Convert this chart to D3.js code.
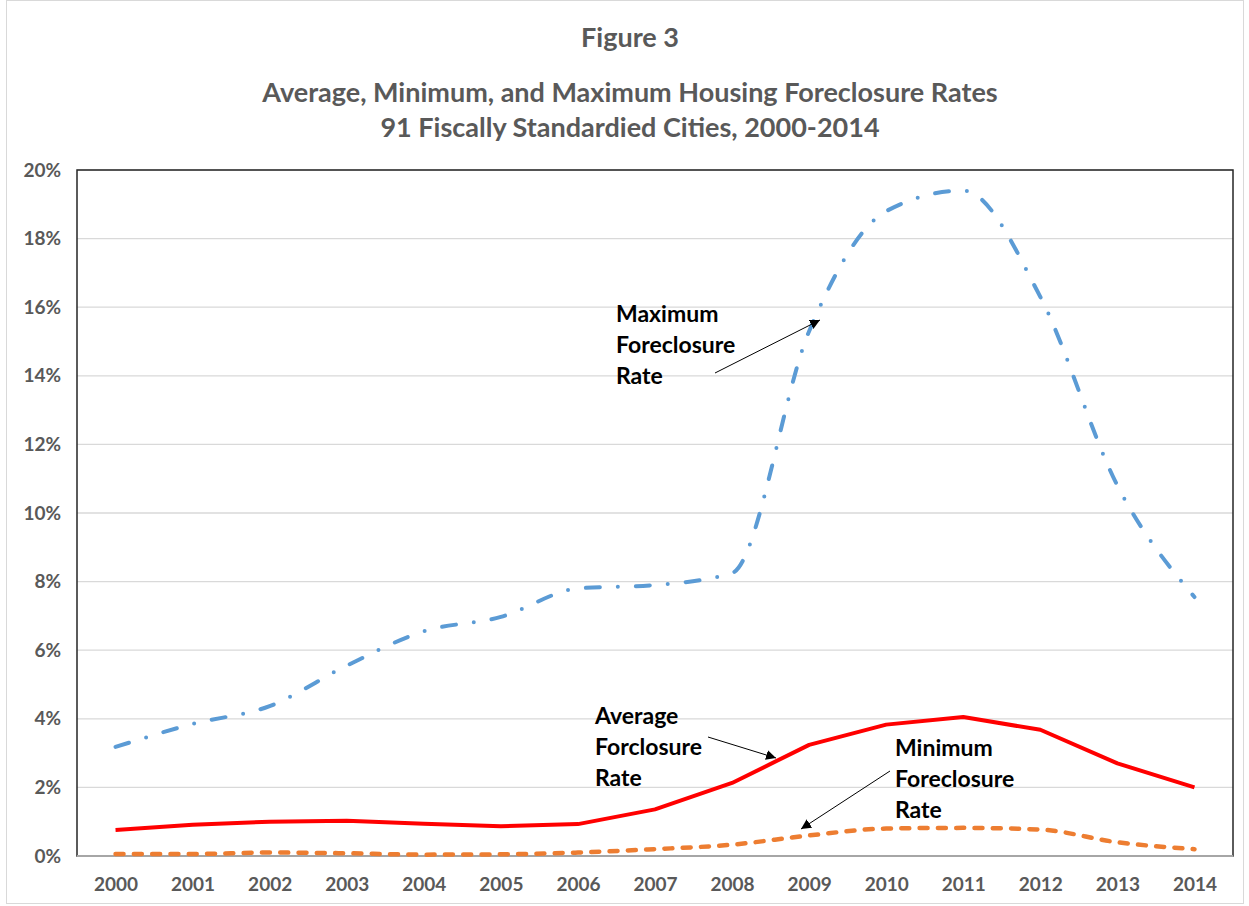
<!DOCTYPE html>
<html>
<head>
<meta charset="utf-8">
<title>Figure 3</title>
<script src="https://cdn.jsdelivr.net/npm/d3@7"></script>
<style>
  body { margin: 0; background: #fff; }
  text { font-family: Lato, "Open Sans", sans-serif; font-weight: bold; }
</style>
</head>
<body>
<script>
// data (percent)
var years = ["2000","2001","2002","2003","2004","2005","2006","2007","2008","2009","2010","2011","2012","2013","2014"];
var maxRate = [3.18, 3.85, 4.37, 5.55, 6.55, 6.97, 7.8, 7.9, 8.25, 15.3, 18.8, 19.4, 16.3, 10.8, 7.55];
var avgRate = [0.76, 0.91, 1.0, 1.03, 0.94, 0.87, 0.93, 1.36, 2.13, 3.24, 3.83, 4.05, 3.68, 2.7, 2.0];
var minRate = [0.06, 0.06, 0.1, 0.08, 0.04, 0.05, 0.1, 0.2, 0.33, 0.6, 0.8, 0.82, 0.77, 0.4, 0.2];
var yTicks = [0, 2, 4, 6, 8, 10, 12, 14, 16, 18, 20];

var W = 1249, H = 906;
var plotL = 77, plotR = 1233, plotT = 170, plotB = 856;

var svg = d3.select("body").append("svg")
    .attr("width", W)
    .attr("height", H);

// outer chart frame
svg.append("rect")
    .attr("x", 6.5).attr("y", 0.5)
    .attr("width", W - 12).attr("height", H - 3)
    .attr("fill", "#fff")
    .attr("stroke", "#d9d9d9");

var x = d3.scalePoint().domain(years).range([plotL, plotR]).padding(0.5);
var y = d3.scaleLinear().domain([0, 20]).range([plotB, plotT]);

// titles
svg.append("text").attr("x", 630).attr("y", 47).attr("text-anchor", "middle")
    .attr("font-size", 27).attr("fill", "#595959").text("Figure 3");
svg.append("text").attr("x", 630).attr("y", 102).attr("text-anchor", "middle")
    .attr("font-size", 27).attr("fill", "#595959").text("Average, Minimum, and Maximum Housing Foreclosure Rates");
svg.append("text").attr("x", 630).attr("y", 137).attr("text-anchor", "middle")
    .attr("font-size", 27).attr("fill", "#595959").text("91 Fiscally Standardied Cities, 2000-2014");

// gridlines
svg.append("g").selectAll("line")
    .data(yTicks)
    .enter().append("line")
    .attr("x1", plotL).attr("x2", plotR)
    .attr("y1", function (d) { return y(d); })
    .attr("y2", function (d) { return y(d); })
    .attr("stroke", "#d9d9d9")
    .attr("stroke-width", 1.3);

// plot border
svg.append("rect")
    .attr("x", plotL).attr("y", plotT)
    .attr("width", plotR - plotL).attr("height", plotB - plotT)
    .attr("fill", "none")
    .attr("stroke", "#262626")
    .attr("stroke-width", 1.5);
svg.append("line")
    .attr("x1", plotL).attr("x2", plotR)
    .attr("y1", plotB).attr("y2", plotB)
    .attr("stroke", "#a6a6a6").attr("stroke-width", 2);

// axes
var yAxis = svg.append("g")
    .attr("transform", "translate(" + plotL + ",0)")
    .call(d3.axisLeft(y).tickValues(yTicks).tickSize(0).tickPadding(16)
        .tickFormat(function (d) { return d + "%"; }));
yAxis.select(".domain").remove();
yAxis.selectAll("text").attr("font-size", 19).attr("fill", "#595959")
    .style("font-family", "Lato, 'Open Sans', sans-serif").style("font-weight", "bold");

var xAxis = svg.append("g")
    .attr("transform", "translate(0," + plotB + ")")
    .call(d3.axisBottom(x).tickSize(0).tickPadding(22));
xAxis.select(".domain").remove();
xAxis.selectAll("text").attr("font-size", 19).attr("fill", "#595959")
    .style("font-family", "Lato, 'Open Sans', sans-serif").style("font-weight", "bold");

// lines
function lineFor(vals, curve) {
    return d3.line()
        .x(function (d, i) { return x(years[i]); })
        .y(function (d) { return y(d); })
        .curve(curve)(vals);
}

svg.append("path")
    .attr("d", lineFor(maxRate, d3.curveMonotoneX))
    .attr("fill", "none")
    .attr("stroke", "#5b9bd5")
    .attr("stroke-width", 4)
    .attr("stroke-linecap", "round")
    .attr("stroke-dasharray", "14,18,0,18");

svg.append("path")
    .attr("d", lineFor(minRate, d3.curveMonotoneX))
    .attr("fill", "none")
    .attr("stroke", "#ed7d31")
    .attr("stroke-width", 4.5)
    .attr("stroke-linecap", "round")
    .attr("stroke-dasharray", "8,10.3");

svg.append("path")
    .attr("d", lineFor(avgRate, d3.curveLinear))
    .attr("fill", "none")
    .attr("stroke", "#ff0000")
    .attr("stroke-width", 4)
    .attr("stroke-linejoin", "round");

// annotations
svg.append("defs").append("marker")
    .attr("id", "arrow")
    .attr("viewBox", "0 0 10 10")
    .attr("refX", 10).attr("refY", 5)
    .attr("markerWidth", 10).attr("markerHeight", 10)
    .attr("markerUnits", "userSpaceOnUse")
    .attr("orient", "auto")
    .append("path").attr("d", "M0,0L10,5L0,10Z").attr("fill", "#000");

var notes = [
    { lines: ["Maximum", "Foreclosure", "Rate"], x: 616, y: 322, from: [715, 373], to: [820, 320] },
    { lines: ["Average", "Forclosure", "Rate"], x: 595, y: 724, from: [708, 737], to: [776, 758] },
    { lines: ["Minimum", "Foreclosure", "Rate"], x: 895, y: 756, from: [890, 771], to: [801, 829] }
];

notes.forEach(function (n) {
    var t = svg.append("text").attr("x", n.x).attr("y", n.y)
        .attr("font-size", 23).attr("fill", "#000");
    n.lines.forEach(function (l, i) {
        t.append("tspan").attr("x", n.x).attr("dy", i === 0 ? 0 : 31).text(l);
    });
    svg.append("line")
        .attr("x1", n.from[0]).attr("y1", n.from[1])
        .attr("x2", n.to[0]).attr("y2", n.to[1])
        .attr("stroke", "#000").attr("stroke-width", 1)
        .attr("marker-end", "url(#arrow)");
});
</script>
</body>
</html>
